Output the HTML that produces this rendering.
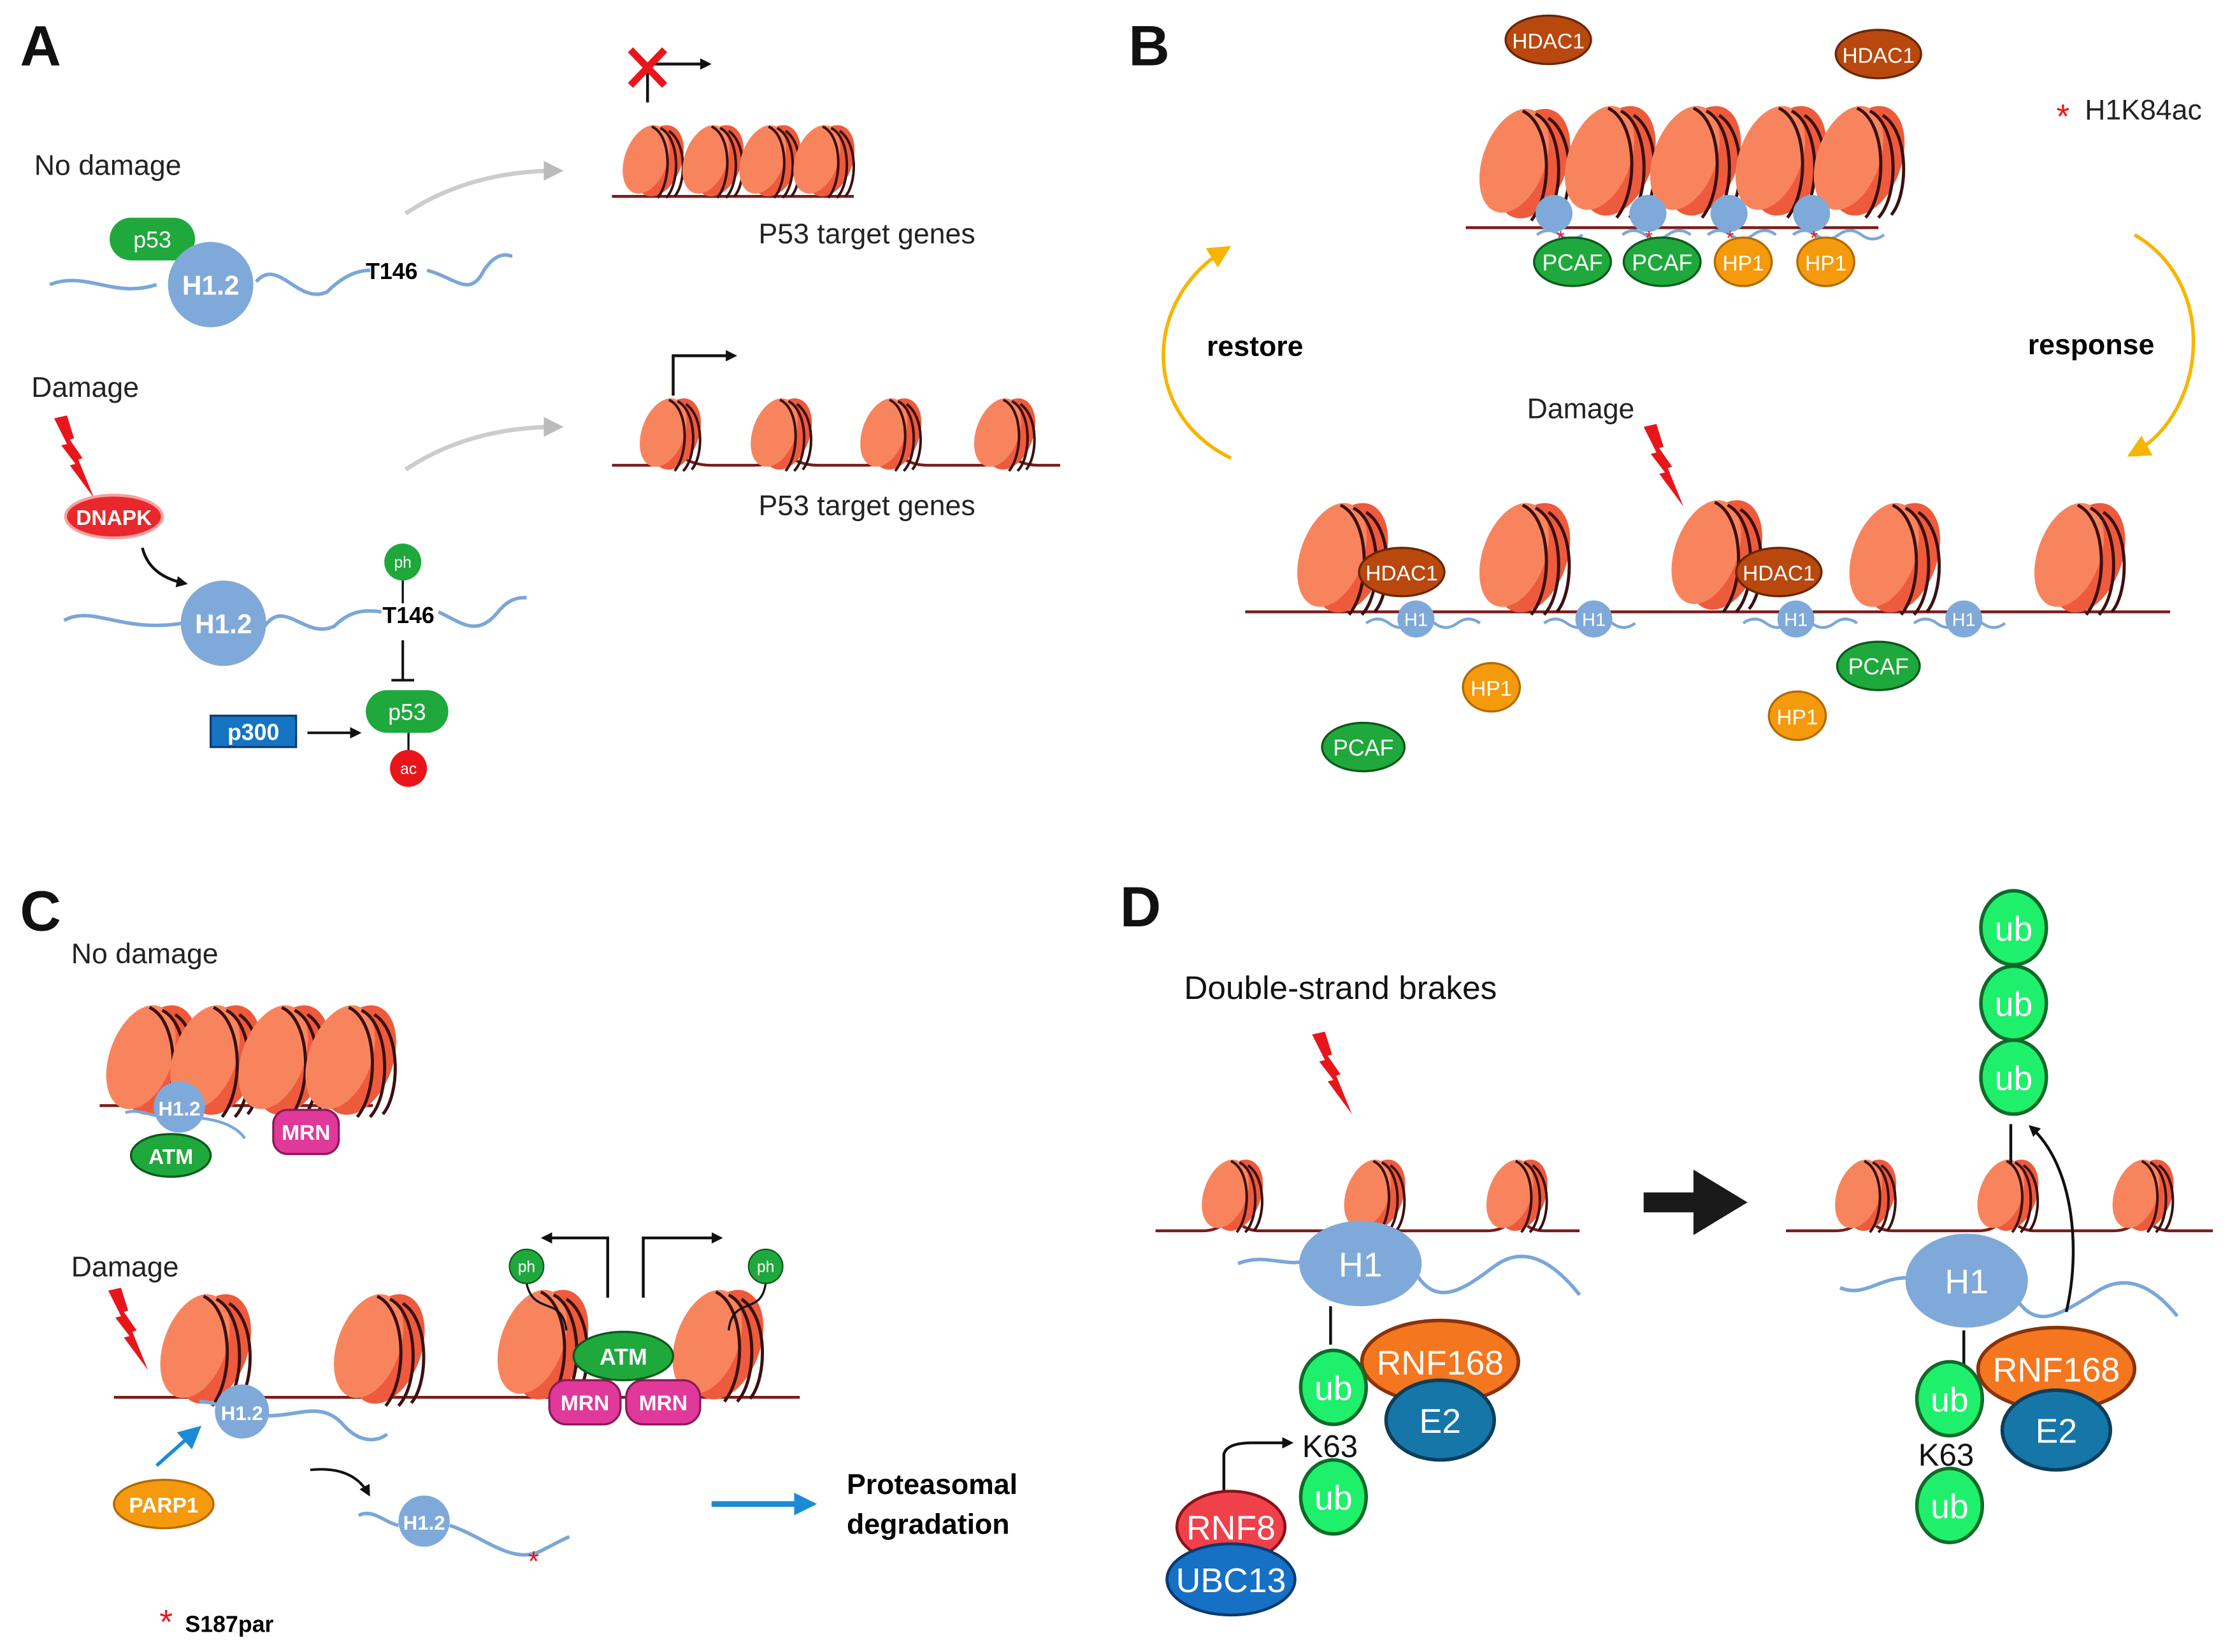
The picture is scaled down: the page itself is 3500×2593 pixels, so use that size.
<!DOCTYPE html>
<html><head><meta charset="utf-8"><style>html,body{margin:0;padding:0;background:#fff}svg{display:block}</style></head><body>
<svg width="3500" height="2593" viewBox="0 0 1567 1161" xmlns="http://www.w3.org/2000/svg" font-family="Liberation Sans, sans-serif">
<defs>
<g id="nuc">
<ellipse cx="5" cy="0" rx="16" ry="26" transform="rotate(20 5 0)" fill="#ee5a3c"/>
<ellipse cx="-4" cy="-1" rx="15" ry="25" transform="rotate(20 -4 -1)" fill="#f8845e"/>
<path d="M0,-24 C14,-18 14,14 4,26 M6,-23 C20,-16 20,16 10,26 M12,-21 C25,-12 24,16 16,25" fill="none" stroke="#3a1010" stroke-width="1.8"/>
</g>
<g id="nucB">
<ellipse cx="7" cy="0" rx="24" ry="40" transform="rotate(20 7 0)" fill="#ee5a3c"/>
<ellipse cx="-6" cy="-2" rx="22" ry="38" transform="rotate(20 -6 -2)" fill="#f8845e"/>
<path d="M0,-37 C20,-28 22,20 6,40 M9,-35 C29,-25 30,24 15,40 M18,-32 C37,-20 36,24 24,38" fill="none" stroke="#3a1010" stroke-width="2.2"/>
</g>
<marker id="ah" markerWidth="8" markerHeight="8" refX="6" refY="4" orient="auto" markerUnits="userSpaceOnUse"><path d="M0,0 L8,4 L0,8 Z" fill="#111"/></marker>
<marker id="ahg" markerWidth="14" markerHeight="14" refX="10" refY="7" orient="auto" markerUnits="userSpaceOnUse"><path d="M0,0 L14,7 L0,14 Z" fill="#bbb"/></marker>
<marker id="ahy" markerWidth="16" markerHeight="16" refX="10" refY="8" orient="auto" markerUnits="userSpaceOnUse"><path d="M0,0 L16,8 L0,16 Z" fill="#f7b500"/></marker>
<marker id="ahb" markerWidth="16" markerHeight="16" refX="10" refY="8" orient="auto" markerUnits="userSpaceOnUse"><path d="M0,0 L16,8 L0,16 Z" fill="#1d8ad6"/></marker>
<g id="bolt"><path d="M0,2 L9,0 L14,16 L11,17 L20,30 L17,31 L28,58 L11,35 L15,34 L5,21 L9,20 Z" fill="#e8161b"/></g>
</defs>
<g font-size="40" font-weight="bold" fill="#111">
<text x="14" y="46">A</text><text x="793" y="46">B</text><text x="14" y="654">C</text><text x="787" y="651">D</text></g>

<!-- Panel A -->
<text x="24" y="123" font-size="20" fill="#222">No damage</text>
<path d="M35,200 C60,190 80,210 110,200 M180,198 C195,180 210,215 230,205 C240,195 250,190 260,190 M300,190 C320,195 330,210 340,190 C350,175 358,180 360,180" fill="none" stroke="#7aa7d8" stroke-width="2.5"/>
<rect x="77" y="153" width="60" height="30" rx="15" fill="#1fa83c"/><text x="107" y="174" font-size="16" fill="#fff" text-anchor="middle">p53</text>
<circle cx="148" cy="200" r="30" fill="#7fa9d9"/><text x="148" y="207" font-size="19" font-weight="bold" fill="#fff" text-anchor="middle">H1.2</text>
<text x="257" y="196" font-size="16" font-weight="bold">T146</text>
<path d="M285,150 Q330,120 392,120" fill="none" stroke="#ccc" stroke-width="3" marker-end="url(#ahg)"/>
<path d="M455,72 L455,45 L498,45" fill="none" stroke="#111" stroke-width="2" marker-end="url(#ah)"/>
<path d="M443,35 L467,60 M467,35 L443,60" stroke="#e8161b" stroke-width="5"/>
<line x1="430" y1="138" x2="600" y2="138" stroke="#7a1c1c" stroke-width="2"/>
<use href="#nuc" x="458" y="113"/><use href="#nuc" x="500" y="113"/><use href="#nuc" x="540" y="113"/><use href="#nuc" x="578" y="113"/>
<text x="533" y="171" font-size="20" fill="#222">P53 target genes</text>
<text x="22" y="279" font-size="20" fill="#222">Damage</text>
<use href="#bolt" x="38" y="292"/>
<ellipse cx="80" cy="363" rx="34" ry="15" fill="#e8282c" stroke="#f7a0a0" stroke-width="2"/><text x="80" y="369" font-size="15" font-weight="bold" fill="#fff" text-anchor="middle">DNAPK</text>
<path d="M100,385 Q105,405 130,410" fill="none" stroke="#111" stroke-width="2" marker-end="url(#ah)"/>
<path d="M45,436 C65,425 85,445 128,438 M186,440 C200,420 215,450 235,440 C245,430 255,428 268,430 M308,430 C325,438 335,448 350,430 C358,420 365,420 370,420" fill="none" stroke="#7aa7d8" stroke-width="2.5"/>
<circle cx="157" cy="438" r="30" fill="#7fa9d9"/><text x="157" y="445" font-size="19" font-weight="bold" fill="#fff" text-anchor="middle">H1.2</text>
<circle cx="283" cy="395" r="13" fill="#1fa83c"/><text x="283" y="399" font-size="11" fill="#fff" text-anchor="middle">ph</text>
<line x1="283" y1="408" x2="283" y2="424" stroke="#111" stroke-width="1.5"/>
<text x="287" y="438" font-size="16" font-weight="bold" text-anchor="middle">T146</text>
<path d="M283,450 L283,478 M275,478 L291,478" stroke="#111" stroke-width="1.8"/>
<rect x="257" y="485" width="58" height="30" rx="15" fill="#1fa83c"/><text x="286" y="506" font-size="16" fill="#fff" text-anchor="middle">p53</text>
<line x1="287" y1="515" x2="287" y2="527" stroke="#111" stroke-width="1.5"/>
<circle cx="287" cy="540" r="13" fill="#e8161b"/><text x="287" y="544" font-size="11" fill="#fff" text-anchor="middle">ac</text>
<rect x="148" y="503" width="60" height="22" fill="#1574c4" stroke="#0a3d70" stroke-width="1.5"/><text x="178" y="520" font-size="16" font-weight="bold" fill="#fff" text-anchor="middle">p300</text>
<line x1="216" y1="515" x2="252" y2="515" stroke="#111" stroke-width="1.8" marker-end="url(#ah)"/>
<path d="M285,330 Q330,300 392,300" fill="none" stroke="#ccc" stroke-width="3" marker-end="url(#ahg)"/>
<path d="M473,278 L473,250 L516,250" fill="none" stroke="#111" stroke-width="2" marker-end="url(#ah)"/>
<path d="M430,327 L455,327 Q470,327 475,318 Q485,327 500,327 L530,327 Q545,327 552,318 Q560,327 575,327 L608,327 Q622,327 630,318 Q638,327 652,327 L690,327 Q702,327 708,318 Q716,327 730,327 L745,327" fill="none" stroke="#7a1c1c" stroke-width="2"/>
<use href="#nuc" x="470" y="305"/><use href="#nuc" x="548" y="305"/><use href="#nuc" x="625" y="305"/><use href="#nuc" x="705" y="305"/>
<text x="533" y="362" font-size="20" fill="#222">P53 target genes</text>

<!-- Panel B -->
<ellipse cx="1088" cy="28" rx="30" ry="17" fill="#b8480e" stroke="#6a2506" stroke-width="1.5"/><text x="1088" y="34" font-size="15" fill="#fff" text-anchor="middle">HDAC1</text>
<ellipse cx="1320" cy="38" rx="30" ry="17" fill="#b8480e" stroke="#6a2506" stroke-width="1.5"/><text x="1320" y="44" font-size="15" fill="#fff" text-anchor="middle">HDAC1</text>
<text x="1445" y="90" font-size="24" fill="#e8161b">*</text><text x="1465" y="84" font-size="20" fill="#222">H1K84ac</text>
<line x1="1030" y1="160" x2="1320" y2="160" stroke="#7a1c1c" stroke-width="2"/>
<use href="#nucB" x="1070" y="115"/><use href="#nucB" x="1130" y="113"/><use href="#nucB" x="1190" y="113"/><use href="#nucB" x="1250" y="113"/><use href="#nucB" x="1305" y="113"/>
<path d="M1080,165 q8,-6 16,0 t16,0 M1140,165 q8,-6 16,0 t16,0 t16,0 M1200,165 q8,-6 16,0 t16,0 t16,0 M1260,165 q8,-6 16,0 t16,0 t16,0 t16,0" fill="none" stroke="#7aa7d8" stroke-width="2"/>
<g fill="#7fa9d9"><circle cx="1092" cy="150" r="13"/><circle cx="1158" cy="150" r="13"/><circle cx="1215" cy="150" r="13"/><circle cx="1273" cy="150" r="13"/></g>
<g fill="#e8161b" font-size="14"><text x="1094" y="172">*</text><text x="1156" y="172">*</text><text x="1213" y="172">*</text><text x="1272" y="172">*</text></g>
<ellipse cx="1105" cy="184" rx="27" ry="17" fill="#1fa83c" stroke="#0a5a1a" stroke-width="1.5"/><text x="1105" y="190" font-size="16" fill="#fff" text-anchor="middle">PCAF</text>
<ellipse cx="1168" cy="184" rx="27" ry="17" fill="#1fa83c" stroke="#0a5a1a" stroke-width="1.5"/><text x="1168" y="190" font-size="16" fill="#fff" text-anchor="middle">PCAF</text>
<ellipse cx="1225" cy="184" rx="20" ry="17" fill="#f59a0c" stroke="#b36a00" stroke-width="1.5"/><text x="1225" y="190" font-size="15" fill="#fff" text-anchor="middle">HP1</text>
<ellipse cx="1283" cy="184" rx="20" ry="17" fill="#f59a0c" stroke="#b36a00" stroke-width="1.5"/><text x="1283" y="190" font-size="15" fill="#fff" text-anchor="middle">HP1</text>
<path d="M865,322 C800,290 805,210 860,176" fill="none" stroke="#f7b500" stroke-width="2.5" marker-end="url(#ahy)"/>
<path d="M1500,165 C1560,200 1550,290 1500,318" fill="none" stroke="#f7b500" stroke-width="2.5" marker-end="url(#ahy)"/>
<text x="848" y="250" font-size="20" font-weight="bold">restore</text>
<text x="1425" y="249" font-size="20" font-weight="bold">response</text>
<text x="1073" y="294" font-size="20" fill="#222">Damage</text>
<use href="#bolt" x="1155" y="298"/>
<line x1="875" y1="430" x2="1525" y2="430" stroke="#7a1c1c" stroke-width="2"/>
<use href="#nucB" x="942" y="392"/><use href="#nucB" x="1070" y="392"/><use href="#nucB" x="1205" y="390"/><use href="#nucB" x="1330" y="392"/><use href="#nucB" x="1460" y="392"/>
<path d="M960,438 q8,-6 16,0 t16,0 t16,0 t16,0 t16,0 M1085,438 q8,-6 16,0 t16,0 t16,0 t16,0 M1225,438 q8,-6 16,0 t16,0 t16,0 t16,0 t16,0 M1345,438 q8,-6 16,0 t16,0 t16,0 t16,0" fill="none" stroke="#7aa7d8" stroke-width="2"/>
<ellipse cx="985" cy="402" rx="30" ry="17" fill="#b8480e" stroke="#6a2506" stroke-width="1.5"/><text x="985" y="408" font-size="15" fill="#fff" text-anchor="middle">HDAC1</text>
<ellipse cx="1250" cy="402" rx="30" ry="17" fill="#b8480e" stroke="#6a2506" stroke-width="1.5"/><text x="1250" y="408" font-size="15" fill="#fff" text-anchor="middle">HDAC1</text>
<g font-size="13" fill="#fff" text-anchor="middle">
<circle cx="995" cy="435" r="13" fill="#7fa9d9"/><text x="995" y="440">H1</text>
<circle cx="1120" cy="435" r="13" fill="#7fa9d9"/><text x="1120" y="440">H1</text>
<circle cx="1262" cy="435" r="13" fill="#7fa9d9"/><text x="1262" y="440">H1</text>
<circle cx="1380" cy="435" r="13" fill="#7fa9d9"/><text x="1380" y="440">H1</text></g>
<ellipse cx="1048" cy="483" rx="20" ry="17" fill="#f59a0c" stroke="#b36a00" stroke-width="1.5"/><text x="1048" y="489" font-size="15" fill="#fff" text-anchor="middle">HP1</text>
<ellipse cx="1263" cy="503" rx="20" ry="17" fill="#f59a0c" stroke="#b36a00" stroke-width="1.5"/><text x="1263" y="509" font-size="15" fill="#fff" text-anchor="middle">HP1</text>
<ellipse cx="1320" cy="468" rx="29" ry="17" fill="#1fa83c" stroke="#0a5a1a" stroke-width="1.5"/><text x="1320" y="474" font-size="16" fill="#fff" text-anchor="middle">PCAF</text>
<ellipse cx="958" cy="525" rx="29" ry="17" fill="#1fa83c" stroke="#0a5a1a" stroke-width="1.5"/><text x="958" y="531" font-size="16" fill="#fff" text-anchor="middle">PCAF</text>

<!-- Panel C -->
<text x="50" y="677" font-size="20" fill="#222">No damage</text>
<line x1="70" y1="777" x2="262" y2="777" stroke="#7a1c1c" stroke-width="2"/>
<use href="#nucB" x="105" y="745"/><use href="#nucB" x="150" y="745"/><use href="#nucB" x="198" y="745"/><use href="#nucB" x="245" y="745"/>
<path d="M88,782 C100,778 110,788 126,785 C150,785 165,790 172,800" fill="none" stroke="#7aa7d8" stroke-width="2"/>
<circle cx="126" cy="778" r="18" fill="#7fa9d9"/><text x="126" y="784" font-size="14" font-weight="bold" fill="#fff" text-anchor="middle">H1.2</text>
<ellipse cx="120" cy="812" rx="28" ry="15" fill="#1fa83c" stroke="#0a5a1a" stroke-width="1.5"/><text x="120" y="818" font-size="15" font-weight="bold" fill="#fff" text-anchor="middle">ATM</text>
<rect x="192" y="780" width="46" height="31" rx="10" fill="#e0399a" stroke="#8a1a5a" stroke-width="1.5"/><text x="215" y="801" font-size="15" font-weight="bold" fill="#fff" text-anchor="middle">MRN</text>
<text x="50" y="897" font-size="20" fill="#222">Damage</text>
<use href="#bolt" x="76" y="905"/>
<line x1="80" y1="982" x2="562" y2="982" stroke="#7a1c1c" stroke-width="2"/>
<use href="#nucB" x="143" y="948"/><use href="#nucB" x="265" y="948"/><use href="#nucB" x="380" y="945"/><use href="#nucB" x="503" y="945"/>
<path d="M140,985 C155,985 165,995 188,995 C210,995 225,985 240,1000 C250,1012 262,1015 272,1008" fill="none" stroke="#7aa7d8" stroke-width="2.5"/>
<circle cx="170" cy="992" r="19" fill="#7fa9d9"/><text x="170" y="998" font-size="14" font-weight="bold" fill="#fff" text-anchor="middle">H1.2</text>
<line x1="110" y1="1030" x2="137" y2="1006" stroke="#1d8ad6" stroke-width="2.5" marker-end="url(#ahb)"/>
<ellipse cx="115" cy="1057" rx="35" ry="17" fill="#f59a0c" stroke="#b36a00" stroke-width="1.5"/><text x="115" y="1063" font-size="15" font-weight="bold" fill="#fff" text-anchor="middle">PARP1</text>
<path d="M218,1033 Q248,1030 259,1050" fill="none" stroke="#111" stroke-width="1.8" marker-end="url(#ah)"/>
<path d="M252,1065 C262,1060 270,1070 280,1072 M316,1072 C340,1080 360,1100 380,1090 C390,1085 395,1082 400,1080" fill="none" stroke="#7aa7d8" stroke-width="2.5"/>
<circle cx="298" cy="1069" r="18" fill="#7fa9d9"/><text x="298" y="1075" font-size="14" font-weight="bold" fill="#fff" text-anchor="middle">H1.2</text>
<text x="371" y="1104" font-size="20" fill="#e8161b">*</text>
<path d="M370,902 C375,925 395,910 398,935 M538,902 C535,925 515,910 512,935" fill="none" stroke="#111" stroke-width="1.5"/>
<circle cx="370" cy="890" r="12" fill="#1fa83c" stroke="#0a5a1a"/><text x="370" y="894" font-size="11" fill="#fff" text-anchor="middle">ph</text>
<circle cx="538" cy="890" r="12" fill="#1fa83c" stroke="#0a5a1a"/><text x="538" y="894" font-size="11" fill="#fff" text-anchor="middle">ph</text>
<path d="M427,912 L427,870 L382,870" fill="none" stroke="#111" stroke-width="2" marker-end="url(#ah)"/>
<path d="M452,912 L452,870 L506,870" fill="none" stroke="#111" stroke-width="2" marker-end="url(#ah)"/>
<ellipse cx="438" cy="953" rx="35" ry="17" fill="#1fa83c" stroke="#0a5a1a" stroke-width="1.5"/><text x="438" y="959" font-size="16" font-weight="bold" fill="#fff" text-anchor="middle">ATM</text>
<rect x="386" y="970" width="50" height="31" rx="12" fill="#e0399a" stroke="#8a1a5a" stroke-width="1.5"/><text x="411" y="991" font-size="15" font-weight="bold" fill="#fff" text-anchor="middle">MRN</text>
<rect x="440" y="970" width="52" height="31" rx="12" fill="#e0399a" stroke="#8a1a5a" stroke-width="1.5"/><text x="466" y="991" font-size="15" font-weight="bold" fill="#fff" text-anchor="middle">MRN</text>
<line x1="500" y1="1057" x2="568" y2="1057" stroke="#1d8ad6" stroke-width="4" marker-end="url(#ahb)"/>
<text x="595" y="1050" font-size="20" font-weight="bold">Proteasomal</text>
<text x="595" y="1078" font-size="20" font-weight="bold">degradation</text>
<text x="112" y="1148" font-size="24" fill="#e8161b">*</text><text x="130" y="1147" font-size="16" font-weight="bold">S187par</text>

<!-- Panel D -->
<text x="832" y="702" font-size="23" fill="#111">Double-strand brakes</text>
<use href="#bolt" x="922" y="725"/>
<path d="M812,865 L845,865 Q860,865 865,852 Q872,865 885,865 L945,865 Q960,865 965,852 Q972,865 985,865 L1045,865 Q1060,865 1065,852 Q1072,865 1085,865 L1110,865" fill="none" stroke="#7a1c1c" stroke-width="2"/>
<use href="#nuc" x="865" y="840"/><use href="#nuc" x="965" y="840"/><use href="#nuc" x="1065" y="840"/>
<path d="M870,888 C890,880 905,892 920,885 M995,895 C1010,920 1030,905 1050,890 C1070,875 1090,885 1110,910" fill="none" stroke="#7aa7d8" stroke-width="2.5"/>
<ellipse cx="956" cy="888" rx="43" ry="30" fill="#7fa9d9"/><text x="956" y="897" font-size="24" fill="#fff" text-anchor="middle">H1</text>
<line x1="935" y1="918" x2="935" y2="945" stroke="#111" stroke-width="2"/>
<ellipse cx="1012" cy="957" rx="55" ry="29" fill="#f4761e" stroke="#8a3208" stroke-width="2.5"/><text x="1012" y="966" font-size="24" fill="#fff" text-anchor="middle">RNF168</text>
<ellipse cx="1012" cy="998" rx="38" ry="28" fill="#1676a8" stroke="#0c3e5a" stroke-width="2.5"/><text x="1012" y="1007" font-size="24" fill="#fff" text-anchor="middle">E2</text>
<ellipse cx="937" cy="975" rx="23" ry="26" fill="#1ff06c" stroke="#0e6a2a" stroke-width="2.5"/><text x="937" y="984" font-size="24" fill="#fff" text-anchor="middle">ub</text>
<text x="915" y="1024" font-size="22" fill="#111">K63</text>
<ellipse cx="937" cy="1052" rx="23" ry="26" fill="#1ff06c" stroke="#0e6a2a" stroke-width="2.5"/><text x="937" y="1061" font-size="24" fill="#fff" text-anchor="middle">ub</text>
<path d="M860,1050 L860,1022 Q862,1014 880,1014 L907,1014" fill="none" stroke="#111" stroke-width="2" marker-end="url(#ah)"/>
<ellipse cx="865" cy="1073" rx="38" ry="25" fill="#f0404a" stroke="#8a1018" stroke-width="2"/><text x="865" y="1082" font-size="24" fill="#fff" text-anchor="middle">RNF8</text>
<ellipse cx="865" cy="1110" rx="45" ry="25" fill="#1670c4" stroke="#0a3a70" stroke-width="2"/><text x="865" y="1119" font-size="24" fill="#fff" text-anchor="middle">UBC13</text>
<path d="M1155,838 L1190,838 L1190,822 L1228,845 L1190,868 L1190,852 L1155,852 Z" fill="#1a1a1a"/>
<path d="M1255,865 L1290,865 Q1305,865 1310,852 Q1317,865 1330,865 L1390,865 Q1405,865 1410,852 Q1417,865 1430,865 L1485,865 Q1500,865 1505,852 Q1512,865 1525,865 L1555,865" fill="none" stroke="#7a1c1c" stroke-width="2"/>
<use href="#nuc" x="1310" y="840"/><use href="#nuc" x="1410" y="840"/><use href="#nuc" x="1505" y="840"/>
<path d="M1293,905 C1310,912 1320,898 1340,898 M1415,910 C1430,935 1445,925 1470,910 C1490,895 1510,900 1530,925" fill="none" stroke="#7aa7d8" stroke-width="2.5"/>
<ellipse cx="1382" cy="900" rx="43" ry="33" fill="#7fa9d9"/><text x="1382" y="909" font-size="24" fill="#fff" text-anchor="middle">H1</text>
<line x1="1413" y1="790" x2="1413" y2="818" stroke="#111" stroke-width="2"/>
<path d="M1452,922 C1462,880 1458,820 1427,792" fill="none" stroke="#111" stroke-width="2" marker-end="url(#ah)"/>
<ellipse cx="1415" cy="652" rx="23" ry="26" fill="#1ff06c" stroke="#0e6a2a" stroke-width="2.5"/><text x="1415" y="661" font-size="24" fill="#fff" text-anchor="middle">ub</text>
<ellipse cx="1415" cy="705" rx="23" ry="26" fill="#1ff06c" stroke="#0e6a2a" stroke-width="2.5"/><text x="1415" y="714" font-size="24" fill="#fff" text-anchor="middle">ub</text>
<ellipse cx="1415" cy="757" rx="23" ry="26" fill="#1ff06c" stroke="#0e6a2a" stroke-width="2.5"/><text x="1415" y="766" font-size="24" fill="#fff" text-anchor="middle">ub</text>
<line x1="1380" y1="935" x2="1380" y2="960" stroke="#111" stroke-width="2"/>
<ellipse cx="1445" cy="962" rx="55" ry="29" fill="#f4761e" stroke="#8a3208" stroke-width="2.5"/><text x="1445" y="971" font-size="24" fill="#fff" text-anchor="middle">RNF168</text>
<ellipse cx="1445" cy="1005" rx="38" ry="28" fill="#1676a8" stroke="#0c3e5a" stroke-width="2.5"/><text x="1445" y="1014" font-size="24" fill="#fff" text-anchor="middle">E2</text>
<ellipse cx="1370" cy="983" rx="23" ry="26" fill="#1ff06c" stroke="#0e6a2a" stroke-width="2.5"/><text x="1370" y="992" font-size="24" fill="#fff" text-anchor="middle">ub</text>
<text x="1348" y="1030" font-size="22" fill="#111">K63</text>
<ellipse cx="1370" cy="1058" rx="23" ry="26" fill="#1ff06c" stroke="#0e6a2a" stroke-width="2.5"/><text x="1370" y="1067" font-size="24" fill="#fff" text-anchor="middle">ub</text>
</svg>
</body></html>
